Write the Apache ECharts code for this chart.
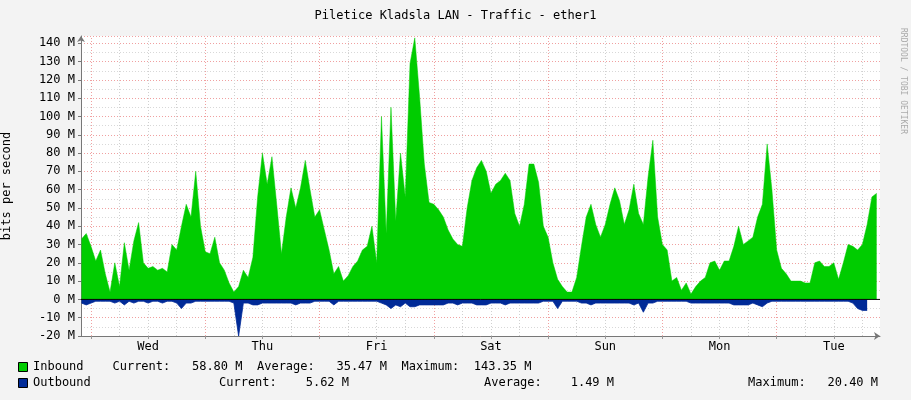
<!DOCTYPE html>
<html><head><meta charset="utf-8">
<script src="https://cdn.jsdelivr.net/npm/echarts@6/dist/echarts.min.js"></script>
<style>html,body{margin:0;background:#f3f3f3}#c{width:911px;height:400px}</style>
</head><body><div id="c"></div>
<script>
// hours since Tue 00:00, first sample at Tue 22:00, one per hour
const startHour = 22;
const inbound = [33,36,29,21,27,14,4,20,7,31,16,32,42,20,17,18,16,17,15,30,27,40,52,45,70,40,
26,25,34,20,16,9,4,7,16,12,23,56,80,63,78,52,25,45,61,50,61,76,60,45,49,38,27,14,18,10,13,18,21,27,29,40,20,
100,36,105,43,80,56,129,143,111,74,53,52,49,45,38,33,30,29,50,65,72,76,
70,58,63,65,69,65,47,40,52,74,74,64,40,34,20,11,7,4,4,12,29,45,52,41,34,41,52,61,54,41,49,63,47,41,67,87,45,
30,27,10,12,5,9,3,7,10,12,20,21,16,21,21,29,40,30,32,34,45,52,85,60,
27,17,14,10,10,10,9,9,20,21,18,18,20,11,20,30,29,27,30,41,56,58];
const outbound = [-2,-3,-2,-1,-1,-1,-1,-2,-1,-3,-1,-2,-1,-1,-2,-1,-1,-2,-1,-1,-2,-5,-2,-2,-1,-1,
-1,-1,-1,-1,-1,-1,-2,-20,-2,-2,-3,-3,-2,-2,-2,-2,-2,-2,-2,-3,-2,-2,-2,-1,-1,-1,-1,-3,-1,-1,-1,-1,-1,-1,-1,-1,-1,
-2,-3,-5,-3,-4,-2,-4,-4,-3,-3,-3,-3,-3,-3,-2,-2,-3,-2,-2,-2,-3,-3,
-3,-2,-2,-2,-3,-2,-2,-2,-2,-2,-2,-2,-1,-1,-1,-5,-1,-1,-1,-1,-2,-2,-3,-2,-2,-2,-2,-2,-2,-2,-2,-3,-2,-7,-2,
-2,-1,-1,-1,-1,-1,-1,-1,-2,-2,-2,-2,-2,-2,-2,-2,-2,-3,-3,-3,-3,-2,-3,-4,
-2,-1,-1,-1,-1,-1,-1,-1,-1,-1,-1,-1,-1,-1,-1,-1,-1,-1,-2,-5,-6,-6];
const dayLabels = ['Wed','Thu','Fri','Sat','Sun','Mon','Tue'];
const dayNoons = [36,60,84,108,132,156,180];
const xMin = 21.9, xMax = 189.7;

const inData = inbound.map((v,i)=>[startHour+i,v]);
const outData = outbound.map((v,i)=>[startHour+i,v]);
const vLines = [];
for (let h=24; h<xMax; h+=6) vLines.push({xAxis:h, lineStyle:{color: h%24===0?'#f0a0a0':'#d0d0d0', type:[1,2], width:1}});

const mono = 'DejaVu Sans Mono';
const chart = echarts.init(document.getElementById('c'));
chart.setOption({
  backgroundColor:'#f3f3f3',
  animation:false,
  textStyle:{fontFamily:mono},
  title:{text:'Piletice Kladsla LAN - Traffic - ether1',left:'center',top:5,
    textStyle:{fontFamily:mono,fontSize:12,fontWeight:'normal',color:'#000'}},
  grid:{left:81,right:31,top:36,bottom:64,backgroundColor:'#fff',show:true,borderWidth:0,outerBoundsMode:'none',containLabel:false},
  xAxis:{type:'value',min:xMin,max:xMax,
    axisLine:{lineStyle:{color:'#777'},symbol:['none','arrow'],symbolSize:[6,6],onZero:false},
    axisTick:{show:true,customValues:dayNoons.map(h=>h-12).concat(dayNoons),length:3,lineStyle:{color:'#999'}},
    axisLabel:{customValues:dayNoons,formatter:v=>dayLabels[dayNoons.indexOf(v)]||'',color:'#000',fontFamily:mono,fontSize:12,margin:5},
    splitLine:{show:false}},
  yAxis:{type:'value',min:-20,max:144,interval:10,
    name:'bits per second',nameLocation:'middle',nameGap:68,nameTextStyle:{fontFamily:mono,fontSize:12,color:'#000'},
    axisLine:{show:true,lineStyle:{color:'#777'},symbol:['none','arrow'],symbolSize:[6,6]},
    axisTick:{show:true,length:3},
    axisLabel:{formatter:v=>v+' M',color:'#000',fontFamily:mono,fontSize:12,showMaxLabel:false,margin:6},
    splitLine:{lineStyle:{color:'#f0a0a0',type:[1,2]}},
    minorTick:{show:false,splitNumber:2},
    minorSplitLine:{show:true,lineStyle:{color:'#d8d8d8',type:[1,2]}}},
  series:[
    {type:'line',data:inData,showSymbol:false,lineStyle:{width:0.5,color:'#00cc00'},areaStyle:{color:'#00cc00',opacity:1},z:3,
     markLine:{silent:true,symbol:'none',label:{show:false},data:vLines,z:1}},
    {type:'line',data:outData,showSymbol:false,lineStyle:{width:0.8,color:'#002a97'},areaStyle:{color:'#002a97',opacity:1},z:3},
    {type:'line',data:[[xMin,0],[xMax,0]],showSymbol:false,lineStyle:{width:1,color:'#000'},z:4}
  ],
  graphic:[
    {type:'text',right:4,top:28,rotation:-Math.PI/2,style:{text:'RRDTOOL / TOBI OETIKER',fill:'#aaa',font:'8px '+mono}},
    {type:'rect',left:18,top:362,shape:{width:9,height:9},style:{fill:'#00cc00',stroke:'#000',lineWidth:1}},
    {type:'text',left:33,top:361,style:{text:'Inbound    Current:   58.80 M  Average:   35.47 M  Maximum:  143.35 M',fill:'#000',font:'12px '+mono}},
    {type:'rect',left:18,top:378,shape:{width:9,height:9},style:{fill:'#002a97',stroke:'#000',lineWidth:1}},
    {type:'text',left:33,top:377,style:{text:'Outbound',fill:'#000',font:'12px '+mono}},
    {type:'text',left:219,top:377,style:{text:'Current:    5.62 M',fill:'#000',font:'12px '+mono}},
    {type:'text',left:484,top:377,style:{text:'Average:    1.49 M',fill:'#000',font:'12px '+mono}},
    {type:'text',left:748,top:377,style:{text:'Maximum:   20.40 M',fill:'#000',font:'12px '+mono}}
  ]
});
</script></body></html>
